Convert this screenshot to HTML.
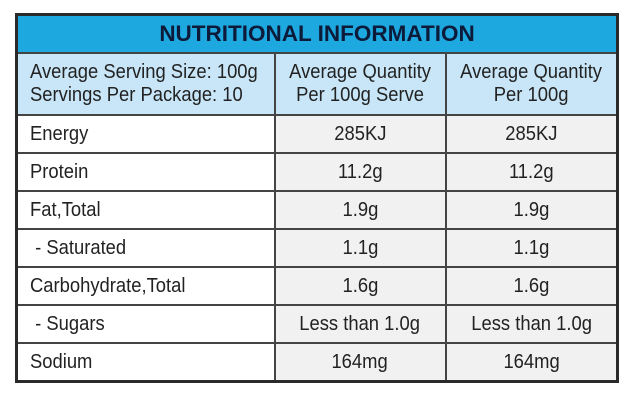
<!DOCTYPE html>
<html><head><style>
body{margin:0;width:640px;height:400px;background:#fff;font-family:"Liberation Sans",sans-serif;color:#222;}
table{position:absolute;left:15px;top:13px;width:601px;border-collapse:collapse;border:3px solid #2a2a2a;table-layout:fixed;}
td{border:2px solid #444;padding:0;font-size:20px;white-space:nowrap;overflow:visible;}
span{display:inline-block;transform:scaleX(0.92);white-space:nowrap;}
.t{background:#1ea8e0;height:36px;text-align:center;font-weight:bold;font-size:22.5px;color:#0d1b3a;}
.h td{background:#c8e6f7;height:60px;line-height:23px;}
.h td.c{text-align:center}
.l span{transform-origin:left center}
.r td{height:36px;}
.r td:first-child{background:#fff;padding-left:12px;}
.r td.v{background:#f1f1f1;text-align:center;}
</style></head><body>
<table>
<colgroup><col style="width:258px"><col style="width:171px"><col style="width:172px"></colgroup>
<tr><td class="t" colspan="3">NUTRITIONAL INFORMATION</td></tr>
<tr class="h"><td class="l" style="padding-left:12px"><span>Average Serving Size: 100g<br>Servings Per Package: 10</span></td><td class="c"><span>Average Quantity<br>Per 100g Serve</span></td><td class="c"><span>Average Quantity<br>Per 100g</span></td></tr>
<tr class="r"><td class="l"><span>Energy</span></td><td class="v"><span>285KJ</span></td><td class="v"><span>285KJ</span></td></tr>
<tr class="r"><td class="l"><span>Protein</span></td><td class="v"><span>11.2g</span></td><td class="v"><span>11.2g</span></td></tr>
<tr class="r"><td class="l"><span>Fat,Total</span></td><td class="v"><span>1.9g</span></td><td class="v"><span>1.9g</span></td></tr>
<tr class="r"><td class="l"><span>&nbsp;- Saturated</span></td><td class="v"><span>1.1g</span></td><td class="v"><span>1.1g</span></td></tr>
<tr class="r"><td class="l"><span>Carbohydrate,Total</span></td><td class="v"><span>1.6g</span></td><td class="v"><span>1.6g</span></td></tr>
<tr class="r"><td class="l"><span>&nbsp;- Sugars</span></td><td class="v"><span>Less than 1.0g</span></td><td class="v"><span>Less than 1.0g</span></td></tr>
<tr class="r"><td class="l"><span>Sodium</span></td><td class="v"><span>164mg</span></td><td class="v"><span>164mg</span></td></tr>
</table>
</body></html>
